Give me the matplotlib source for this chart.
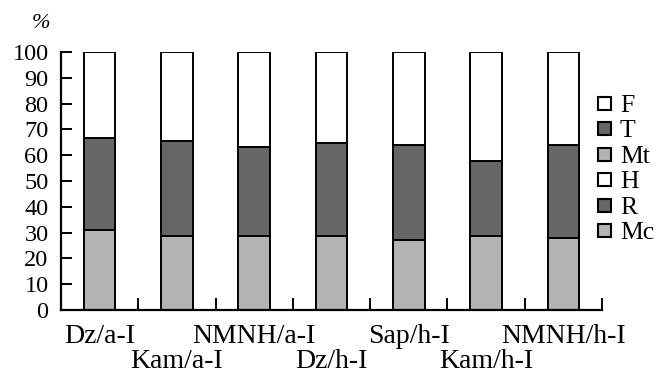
import matplotlib.pyplot as plt
from matplotlib.patches import Rectangle
import numpy as np

plt.rcParams['font.family'] = ['Liberation Serif', 'DejaVu Serif']

categories = ["Dz/a-I", "Kam/a-I", "NMNH/a-I", "Dz/h-I", "Sap/h-I", "Kam/h-I", "NMNH/h-I"]
mc = [31.0, 28.8, 28.8, 28.5, 27.2, 28.8, 28.1]
r = [35.8, 36.7, 34.2, 36.1, 36.6, 28.9, 35.7]
h = [33.2, 34.5, 37.0, 35.4, 36.2, 42.3, 36.2]
mt = [0, 0, 0, 0, 0, 0, 0]
t = [0, 0, 0, 0, 0, 0, 0]
f = [0, 0, 0, 0, 0, 0, 0]

series = [("Mc", mc, "#b3b3b3"), ("R", r, "#666666"), ("H", h, "#ffffff"),
          ("Mt", mt, "#b3b3b3"), ("T", t, "#666666"), ("F", f, "#ffffff")]

W, H = 670, 376
fig = plt.figure(figsize=(W / 100, H / 100), dpi=100)
ax = fig.add_axes([61 / W, 1 - 310 / H, (602 - 61) / W, (310 - 52) / H])

x = np.arange(len(categories))
bottom = np.zeros(len(categories))
for name, vals, col in series:
    vals = np.array(vals, dtype=float)
    ax.bar(x, vals, 0.41, bottom=bottom, color=col, edgecolor="black",
           linewidth=1.4, label=name)
    bottom += vals

ax.set_xlim(-0.5, len(categories) - 0.5)
ax.set_ylim(0, 100)
ax.set_yticks(range(0, 101, 10))
ax.tick_params(axis="y", direction="in", length=8, width=1.4, labelsize=17.5, pad=9)
ax.set_xticks(np.arange(0.5, len(categories) - 0.4, 1.0))
ax.set_xticklabels([])
ax.tick_params(axis="x", direction="in", length=9, width=1.4)
for s in ["top", "right"]:
    ax.spines[s].set_visible(False)
for s in ["left", "bottom"]:
    ax.spines[s].set_linewidth(1.6)

# staggered category labels
for i, lab in enumerate(categories):
    yoff = -0.126 if i % 2 == 0 else -0.226
    ax.text(i, yoff, lab, transform=ax.get_xaxis_transform(), ha="center",
            va="baseline", fontsize=20)

fig.text(41 / W, 1 - 24 / H, "%", fontsize=16, style="italic",
         ha="center", va="center")

# legend, drawn by hand: top entry first
for k, (name, vals, col) in enumerate(series[::-1]):
    yc = 103.5 + k * 25.4
    fig.add_artist(Rectangle((598 / W, 1 - (yc + 6.5) / H), 13 / W, 13 / H,
                             transform=fig.transFigure, facecolor=col,
                             edgecolor="black", linewidth=1.5))
    fig.text(620 / W, 1 - (yc + 8.5) / H, name, fontsize=18.5,
             ha="left", va="baseline")

fig.savefig("out.png", dpi=100)
